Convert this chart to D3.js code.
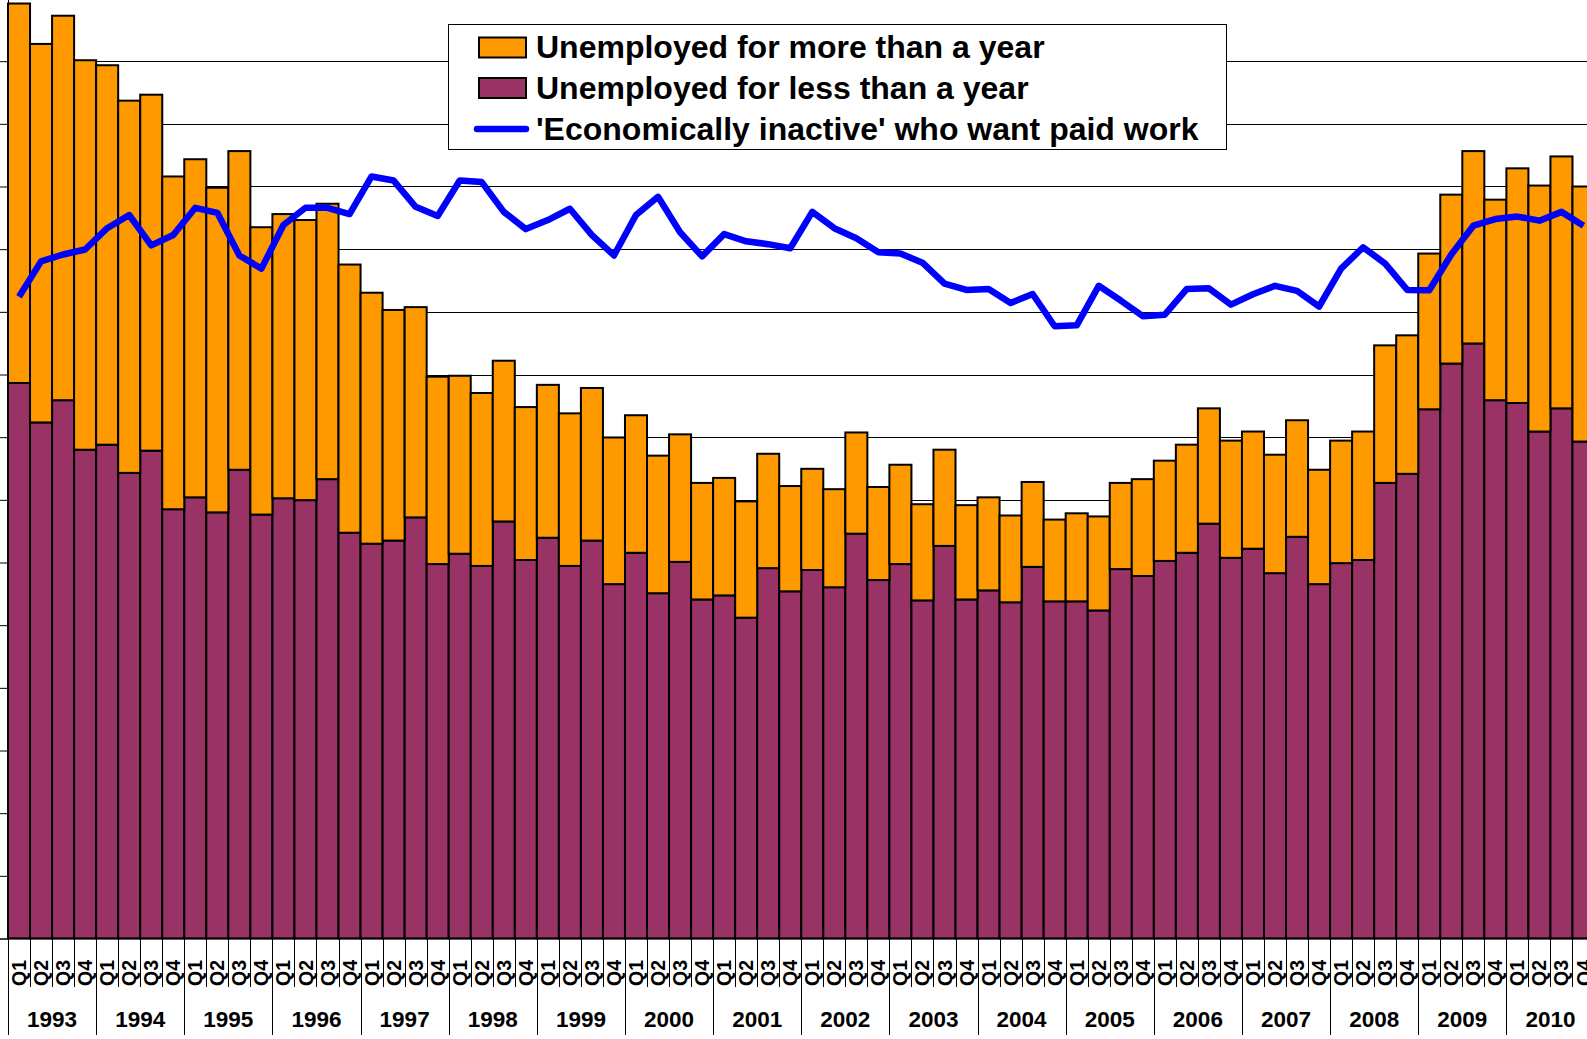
<html>
<script src="https://d3js.org/d3.v7.min.js"></script>
<style>
body{margin:0;background:#fff;overflow:hidden;}
svg{display:block;font-family:"Liberation Sans",Arial,sans-serif;font-weight:bold;}
</style>
<body>
<div class="chart"></div>
</body>
<script>
const years = ['1993','1994','1995','1996','1997','1998','1999','2000','2001',
               '2002','2003','2004','2005','2006','2007','2008','2009','2010'];
const quarters = ['Q1','Q2','Q3','Q4'];

// thousands
const lessThanYear = [1773,1647,1718,1560, 1576,1486,1557,1370, 1408,1360,1496,1353,
  1405,1399,1466,1295, 1260,1270,1344,1195, 1228,1189,1331,1208, 1279,1189,1270,1131,
  1231,1102,1202,1082, 1095,1024,1182,1108, 1176,1121,1292,1144, 1195,1079,1253,1082,
  1111,1073,1186,1076, 1076,1047,1179,1157, 1205,1231,1324,1215, 1244,1166,1282,1131,
  1198,1208,1454,1483, 1689,1835,1899,1718, 1709,1618,1692,1586];
const moreThanYear = [1211,1208,1227,1243, 1211,1188,1136,1062, 1079,1036,1017,917,
  907,894,879,856, 801,736,671,598, 568,552,513,488, 488,487,487,468,
  439,439,407,372, 375,371,365,336, 323,313,323,297, 317,307,307,301,
  297,277,271,261, 281,300,275,309, 320,345,368,374, 374,378,372,365,
  391,410,439,442, 497,539,614,640, 749,785,804,814];
const inactiveWanting = [2048,2161,2183,2199, 2267,2309,2212,2245, 2332,2316,2180,2138,
  2277,2332,2332,2312, 2432,2419,2335,2306, 2419,2414,2319,2264, 2293,2329,2245,2180,
  2309,2367,2254,2177, 2248,2225,2216,2203, 2319,2267,2235,2190, 2186,2157,2090,2070,
  2073,2028,2057,1954, 1957,2083,2036,1986, 1991,2073,2075,2023, 2056,2083,2067,2017,
  2138,2206,2154,2070, 2069,2183,2275,2296, 2304,2291,2319,2275];
const yTicks = [0,200,400,600,800,1000,1200,1400,1600,1800,2000,2200,2400,2600,2800,3000];

const seriesNames = ['Unemployed for more than a year', 'Unemployed for less than a year',
                     "'Economically inactive' who want paid work"];
const colors = {more: '#FF9900', less: '#993366', line: '#0000FF'};

const width = 1587;
const height = 1039;
const left = 8;
const baseY = 938.5;

const periods = years.flatMap(y => quarters.map(q => ({year: y, quarter: q, key: y + q})));
const rows = periods.map((p, i) => ({
    key: p.key, year: p.year, quarter: p.quarter,
    less: lessThanYear[i], more: moreThanYear[i], inactive: inactiveWanting[i]
}));

const x = d3.scaleBand()
    .domain(rows.map(d => d.key))
    .range([left, left + 72 * 22.035])
    .padding(0);

const y = d3.scaleLinear()
    .domain([0, 3000])
    .range([baseY, -1.5]);

const svg = d3.select('.chart').append('svg')
    .attr('width', width)
    .attr('height', height);

// gridlines
svg.append('g')
    .selectAll('line')
    .data(yTicks.filter(t => t > 0))
    .enter().append('line')
        .attr('x1', left).attr('x2', width)
        .attr('y1', d => Math.round(y(d)) + 0.5)
        .attr('y2', d => Math.round(y(d)) + 0.5)
        .attr('stroke', '#000')
        .attr('stroke-width', 1);

// stacked bars
const stacked = d3.stack().keys(['less', 'more'])(rows);
svg.append('g')
    .selectAll('g')
    .data(stacked)
    .enter().append('g')
        .attr('fill', s => colors[s.key])
    .selectAll('rect')
    .data(s => s)
    .enter().append('rect')
        .attr('x', d => x(d.data.key))
        .attr('width', x.bandwidth())
        .attr('y', d => y(d[1]))
        .attr('height', d => y(d[0]) - y(d[1]))
        .attr('stroke', '#000')
        .attr('stroke-width', 2);

// inactive line
const line = d3.line()
    .x(d => x(d.key) + x.bandwidth() / 2)
    .y(d => y(d.inactive));

svg.append('path')
    .attr('d', line(rows))
    .attr('fill', 'none')
    .attr('stroke', colors.line)
    .attr('stroke-width', 6.5)
    .attr('stroke-linejoin', 'round');

// left axis with ticks, no labels
svg.append('g')
    .attr('transform', `translate(${left},0)`)
    .call(d3.axisLeft(y).tickValues(yTicks).tickSize(8).tickFormat(''))
    .call(g => g.selectAll('line,path').attr('stroke', '#000').attr('stroke-width', 1));

// baseline
svg.append('line')
    .attr('x1', left).attr('x2', width)
    .attr('y1', baseY).attr('y2', baseY)
    .attr('stroke', '#000').attr('stroke-width', 1.5);

// category separators and labels
const cat = svg.append('g');
cat.selectAll('line')
    .data(rows)
    .enter().append('line')
        .attr('x1', d => Math.round(x(d.key)) + 0.5)
        .attr('x2', d => Math.round(x(d.key)) + 0.5)
        .attr('y1', baseY)
        .attr('y2', d => d.quarter === 'Q1' ? 1035 : 987)
        .attr('stroke', '#000')
        .attr('stroke-width', 1);

cat.selectAll('text.q')
    .data(rows)
    .enter().append('text')
        .attr('class', 'q')
        .attr('transform', d => `translate(${x(d.key) + x.bandwidth() / 2},973) rotate(-90)`)
        .attr('text-anchor', 'middle')
        .attr('dy', '0.36em')
        .attr('font-size', 19.5)
        .text(d => d.quarter);

cat.selectAll('text.y')
    .data(years)
    .enter().append('text')
        .attr('class', 'y')
        .attr('x', d => x(d + 'Q1') + 2 * x.bandwidth())
        .attr('y', 1027)
        .attr('text-anchor', 'middle')
        .attr('font-size', 22.5)
        .text(d => d);

// legend
const legend = svg.append('g');
legend.append('rect')
    .attr('x', 448.5).attr('y', 24.5)
    .attr('width', 778).attr('height', 125)
    .attr('fill', '#fff')
    .attr('stroke', '#000')
    .attr('stroke-width', 1);

const legendItems = [
    {name: seriesNames[0], type: 'box', color: colors.more},
    {name: seriesNames[1], type: 'box', color: colors.less},
    {name: seriesNames[2], type: 'line', color: colors.line}
];
const rowY = [47.5, 88, 129];

legend.selectAll('g')
    .data(legendItems)
    .enter().append('g')
        .attr('transform', (d, i) => `translate(0,${rowY[i]})`)
    .each(function(d) {
        const g = d3.select(this);
        if (d.type === 'box') {
            g.append('rect')
                .attr('x', 479).attr('y', -10)
                .attr('width', 47).attr('height', 20)
                .attr('fill', d.color)
                .attr('stroke', '#000')
                .attr('stroke-width', 2);
        } else {
            g.append('line')
                .attr('x1', 477).attr('x2', 526)
                .attr('y1', 0).attr('y2', 0)
                .attr('stroke', d.color)
                .attr('stroke-width', 6.5)
                .attr('stroke-linecap', 'round');
        }
        g.append('text')
            .attr('x', 536)
            .attr('y', 10.5)
            .attr('font-size', 32)
            .text(d.name);
    });
</script>
</html>
